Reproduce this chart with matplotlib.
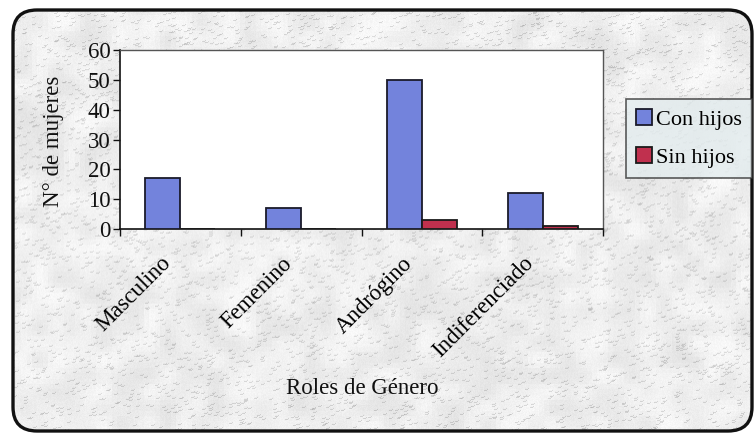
import numpy as np
import matplotlib
matplotlib.use("Agg")
import matplotlib.pyplot as plt
from matplotlib.patches import FancyBboxPatch
from matplotlib.transforms import ScaledTranslation

# Data
categorias = ["Masculino", "Femenino", "Andrógino", "Indiferenciado"]
con_hijos = [17, 7, 50, 12]
sin_hijos = [0, 0, 3, 1]
series_labels = ["Con hijos", "Sin hijos"]
y_ticks = [0, 10, 20, 30, 40, 50, 60]

plt.rcParams["font.family"] = ["Liberation Serif", "DejaVu Serif"]

W, H = 754, 436
fig = plt.figure(figsize=(W / 100, H / 100), dpi=100)
fig.patch.set_facecolor("white")

# Speckled granite-like backdrop inside a rounded frame
bg = fig.add_axes([0, 0, 1, 1], zorder=0)
bg.set_xlim(0, W)
bg.set_ylim(H, 0)
bg.axis("off")

rng = np.random.default_rng(11)
coarse = rng.random((H // 16 + 2, W // 16 + 2))
mott = np.kron(coarse, np.ones((16, 16)))[:H, :W]
for _ in range(3):
    mott = (mott + np.roll(mott, 5, 0) + np.roll(mott, -5, 0)
            + np.roll(mott, 5, 1) + np.roll(mott, -5, 1)) / 5
seeds = (rng.random((H, W)) > 0.982).astype(float)
streak = np.zeros((H, W))
for k in range(4):
    streak += np.roll(np.roll(seeds, k, axis=1), -(k // 3), axis=0)
streak = np.clip(streak, 0, 1.5)
fine = rng.random((H, W))
tex = 0.95 - 0.10 * (mott - 0.5) - 0.13 * streak - 0.03 * fine
tex = np.clip(tex, 0.6, 1.0)
rgb = np.clip(np.dstack([tex, tex, tex]), 0, 1)

frame = FancyBboxPatch((13, 10), 739, 421,
                       boxstyle="round,pad=0,rounding_size=24",
                       facecolor="none", edgecolor="#111111", linewidth=2.4,
                       zorder=3)
img = bg.imshow(rgb, extent=(0, W, H, 0), interpolation="bilinear", zorder=1)
bg.add_patch(frame)
img.set_clip_path(frame)

# Main chart
ax = fig.add_axes([120 / W, 1 - 229 / H, (603 - 120) / W, (229 - 50) / H], zorder=2)
ax.set_facecolor("white")

x = np.arange(len(categorias))
bw = 0.29
ax.bar(x - bw / 2, con_hijos, width=bw, color="#7383dc", edgecolor="#1a1a2a",
       linewidth=1.3, label=series_labels[0], zorder=3)
ax.bar(x + bw / 2, sin_hijos, width=bw, color="#c0304e", edgecolor="#1a1a1a",
       linewidth=1.3, label=series_labels[1], zorder=3)

ax.set_xlim(-0.5, len(categorias) - 0.5)
ax.set_ylim(0, 60)
ax.set_yticks(y_ticks)
ax.set_yticklabels([str(v) for v in y_ticks], fontsize=16.5)
ax.tick_params(axis="y", direction="out", length=5, width=1, pad=2, colors="#111111")

ax.set_xticks(x)
ax.set_xticklabels(categorias, rotation=45, ha="right", va="top",
                   rotation_mode="anchor", fontsize=16.5)
ax.tick_params(axis="x", which="major", length=0, pad=20)
shift = ScaledTranslation(-20 / 100, 4 / 100, fig.dpi_scale_trans)
for lbl in ax.get_xticklabels():
    lbl.set_transform(lbl.get_transform() + shift)
ax.set_xticks(np.arange(-0.5, len(categorias), 1.0), minor=True)
ax.tick_params(axis="x", which="minor", direction="out", length=5, width=1,
               colors="#111111")

for s in ["left", "bottom"]:
    ax.spines[s].set_color("#111111")
    ax.spines[s].set_linewidth(1.2)
for s in ["top", "right"]:
    ax.spines[s].set_color("#555555")
    ax.spines[s].set_linewidth(1.0)

fig.text(53 / W, 1 - 141 / H, "N° de mujeres", rotation=90, fontsize=16.5,
         ha="center", va="center", color="#111111")
fig.text(362 / W, 1 - 388 / H, "Roles de Género", fontsize=16.5,
         ha="center", va="center", color="#111111")

leg = fig.legend(loc="upper left", bbox_to_anchor=(626 / W, 1 - 99 / H),
                 fontsize=16, frameon=True, fancybox=False,
                 handlelength=0.7, handleheight=0.7, handletextpad=0.2,
                 labelspacing=0.8, borderpad=0.45, borderaxespad=0)
leg.get_frame().set_facecolor("#e3ecee")
leg.get_frame().set_edgecolor("#333333")
leg.get_frame().set_linewidth(1.2)
leg.set_zorder(5)

fig.savefig("out.png", dpi=100)
